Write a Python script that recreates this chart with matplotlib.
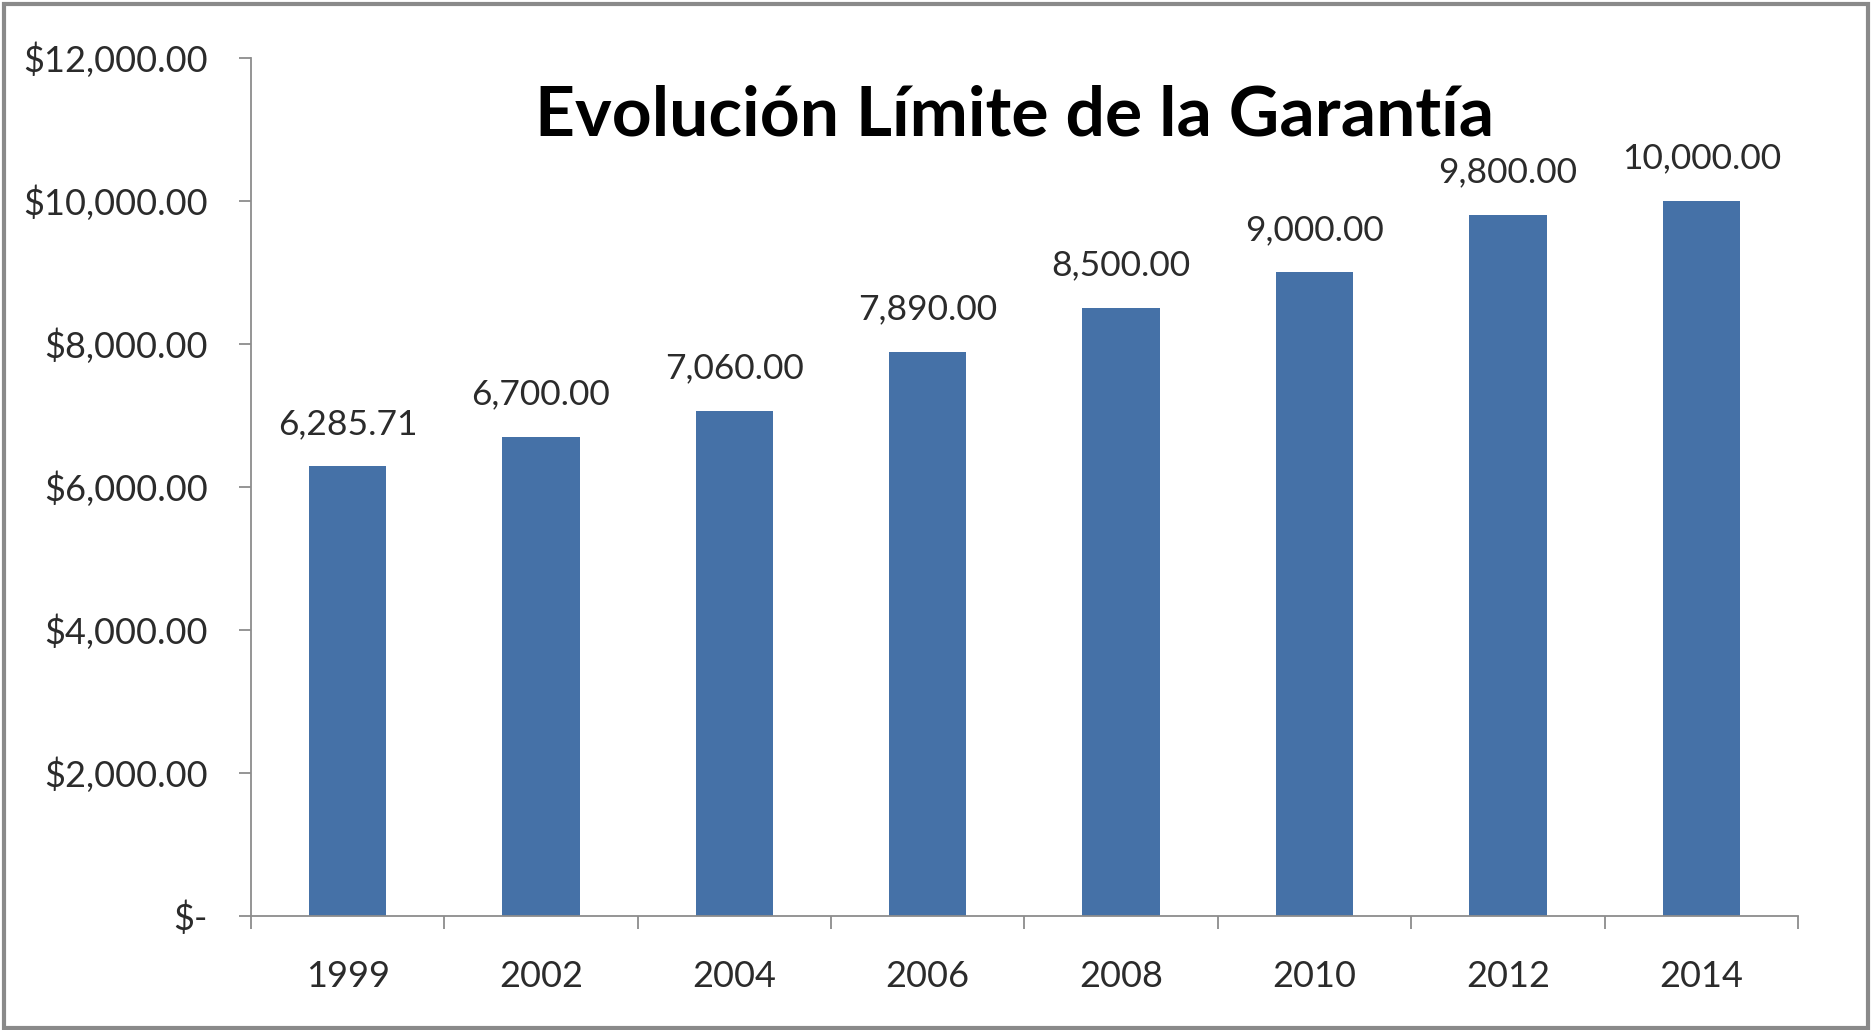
import matplotlib
matplotlib.use("Agg")
import matplotlib.pyplot as plt
from matplotlib.ticker import FuncFormatter, FixedLocator
from matplotlib.patches import Rectangle

years = ["1999", "2002", "2004", "2006", "2008", "2010", "2012", "2014"]
values = [6285.71, 6700.00, 7060.00, 7890.00, 8500.00, 9000.00, 9800.00, 10000.00]
title = "Evolución Límite de la Garantía"
y_ticks = [0, 2000, 4000, 6000, 8000, 10000, 12000]

plt.rcParams['font.family'] = ['Lato', 'DejaVu Sans']

fig = plt.figure(figsize=(18.72, 10.30), dpi=100)
fig.patch.set_facecolor('white')
ax = fig.add_axes([0.134, 0.111, 0.8265, 0.833])

x = list(range(len(years)))
bars = ax.bar(x, values, width=0.40, color='#4571a7', zorder=2)

ax.set_xlim(-0.5, len(years) - 0.5)
ax.set_ylim(0, 12000)

def money(v, pos=None):
    if v == 0:
        return "$-"
    return "${:,.2f}".format(v)

ax.yaxis.set_major_locator(FixedLocator(y_ticks))
ax.yaxis.set_major_formatter(FuncFormatter(money))
ax.set_xticks(x)
ax.set_xticklabels(years)
ax.set_xticks([i - 0.5 for i in range(len(years) + 1)], minor=True)

for s in ['top', 'right']:
    ax.spines[s].set_visible(False)
for s in ['left', 'bottom']:
    ax.spines[s].set_color('#8c8c8c')
    ax.spines[s].set_linewidth(1.3)

ax.tick_params(axis='y', which='major', length=9, width=1.3, color='#8c8c8c',
               labelsize=26, labelcolor='#2b2b2b', pad=22)
ax.tick_params(axis='x', which='major', length=0, labelsize=26,
               labelcolor='#2b2b2b', pad=32)
ax.tick_params(axis='x', which='minor', length=9, width=1.3, color='#8c8c8c')

for xi, v in zip(x, values):
    ax.annotate("{:,.2f}".format(v), (xi, v), xytext=(0, 19),
                textcoords='offset points', ha='center', va='bottom',
                fontsize=25.5, color='#2b2b2b')

fig.text(0.542, 0.887, title, ha='center', va='center', fontsize=50,
         fontweight='bold', color='black')

fig.patches.append(Rectangle((0.002, 0.002), 0.996, 0.994, transform=fig.transFigure,
                             fill=False, edgecolor='#8a8a8a', linewidth=3))

fig.savefig("out.png", dpi=100)
